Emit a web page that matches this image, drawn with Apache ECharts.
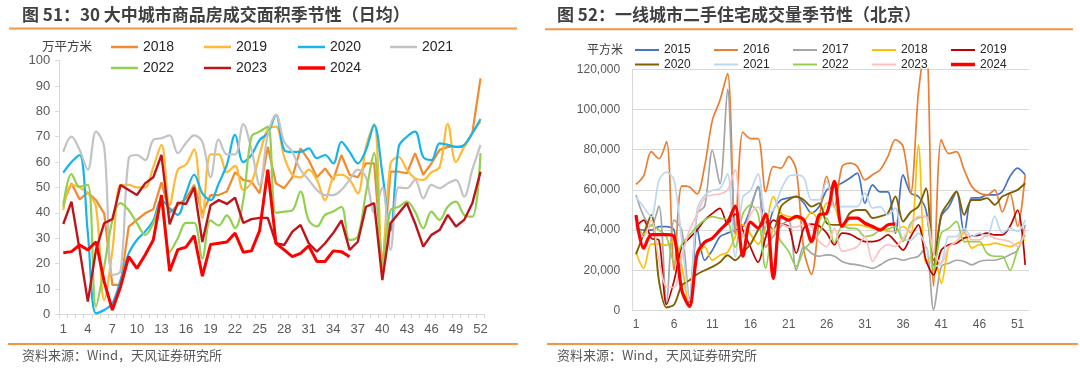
<!DOCTYPE html>
<html><head><meta charset="utf-8">
<script src="https://cdn.jsdelivr.net/npm/echarts/dist/echarts.min.js"></script>
<style>html,body{margin:0;padding:0;background:#fff}#c{width:1080px;height:371px}</style>
</head><body><div id="c"></div>
<script>
// ---------- data ----------
const weeks = ['1','2','3','4','5','6','7','8','9','10','11','12','13','14','15','16','17','18','19','20','21','22','23','24','25','26','27','28','29','30','31','32','33','34','35','36','37','38','39','40','41','42','43','44','45','46','47','48','49','50','51','52'];

// Left chart: 30 cities commodity housing sales area (daily avg, 万平方米)
const L2018 = [44,51.6,45.3,48,45,39.8,11.6,11.6,34.6,37.2,39.8,41.4,52,40,43,45.7,51,39.8,47,47,48.4,56,53,52.3,47.7,66,51.6,49.7,54,65.4,60.8,54,57.5,53,62.8,55,54,59.5,59.5,18,56.2,56.2,55.6,63.5,55,59.5,64.8,66,66,66,71.4,93];
const L2019 = [41,51,50,47.7,42.4,5.6,25,51,51,50,50,58,66.8,43,57,59,65,38,63,63,56,58.5,49,52,63,73,74,62,55,54,57,53,45,54,55,53,47.7,66,75,20,59.5,62,57,53.6,53,56,58,75,60,66,71.4,76];
const L2020 = [55.8,60,62.8,32,0.4,1.7,4.3,13.5,24,29.3,32.6,37,45,41.8,39.2,47.7,55,47.7,45,51.6,59,70.7,60,62.8,68.7,71.4,78.6,64.8,64,64,65.4,61.5,62.8,59.5,68,64,59.5,64.8,74.6,55.6,33,66,70,72,62,60.8,67.4,66.8,66,66.8,71.4,77];
const L2021 = [64,70,64.8,57,72,66,15.5,17,61.5,62.8,60.8,68.7,69.4,70.5,63.5,67.5,70.5,68,54,69,63,63,75,65,51,71,78.6,68,64,57,53,49,47,47,49,53,57,54,40,50,25.4,50,49.7,53,45.7,51,49.7,51.6,53,46.4,57,66.8];
const L2022 = [42.4,55.3,50.3,51,3,18.8,37,43.8,41,35.9,31.3,35.9,45,24.5,30,36,36,22,37,35,39,34,45,70,72,74,40,40.5,41,48.4,37,34.6,39.2,40.5,42.4,29.3,30.6,48,63.5,20,41,42.4,44.4,40.5,33.9,40.5,37.2,42.4,44.4,39.2,38.5,63.5];
const L2023 = [35.6,44.4,25.4,5,25.4,35.9,37.5,51,49,47,51.6,54,62.8,35.5,44,43.5,50,28.5,43,45,43.5,46,36,37.5,38,38,28,27.3,32.6,35.2,28,24.7,28,32,37,25.4,28.6,42.4,43.8,13.5,35.9,39.8,43.8,35.9,26.7,31.3,33.2,39.2,34.6,37.2,43.8,56.2];
const L2024 = [24.3,24.7,27.3,25.4,28.6,12.9,1.7,10.9,22.7,18.1,23.4,29.3,47,17,25.5,26.5,31,15,27.5,28,28.5,32,24.5,25,33,57,28,25.4,22.7,24,27,20.8,20.8,25,24.7,22.7];

// Right chart: Beijing second-hand housing transactions (平方米)
const R2015 = [40800,40000,40000,41700,41700,40000,10000,4000,40800,25000,30000,36700,38500,40000,41700,50800,61700,38000,50000,55000,56000,56700,53400,48400,51700,60000,61700,63400,65800,68300,53400,62500,59000,59000,38500,67500,58400,56700,50000,25000,46800,51700,59000,38500,56000,56000,57500,57500,59200,66700,70800,67500];
const R2016 = [62700,67000,79000,75500,84000,20000,62000,61400,58000,72000,94600,104600,118000,38000,88800,85500,85500,59000,71600,70800,76600,70000,30000,18000,45000,66700,51700,71600,73300,71600,65000,67500,70000,76600,85000,81600,58400,108000,135000,12000,85000,78000,79000,70000,61700,58400,57500,60000,49000,58400,41800,67500];
const R2017 = [57500,47000,42000,52000,4000,45000,40000,6000,48000,52000,79700,63000,110000,40000,38000,51500,61400,31500,37000,42000,45000,20000,31800,28500,27000,27700,27000,24400,23200,22700,21900,21000,22700,25000,26000,25000,26000,27000,31800,300,21900,23500,25000,24400,22700,24400,25000,25000,26000,27700,30000,42600];
const R2018 = [29000,21000,33000,33000,32500,35000,22000,1700,26700,31700,25000,27500,29000,36700,42700,38000,33000,41500,56700,48400,46800,46000,45000,49000,45000,53400,51700,41800,42600,42600,42000,41000,41000,39300,39300,41800,38500,82400,23500,27700,13600,31800,34300,38500,31000,32700,32700,33500,32700,31800,33500,35200];
const R2019 = [41700,45000,36000,35000,3000,15000,32000,36000,40000,45000,48300,50800,43000,48000,40000,31500,24000,36500,45000,43000,41800,28500,41000,43000,42000,38500,32700,38500,38000,36000,34300,34300,35200,37600,34300,30000,36800,42600,25000,17700,30000,32700,33500,36000,37000,37500,38500,37600,37600,41800,50000,22700];
const R2020 = [28000,38000,47500,15000,1500,3000,12500,15000,18000,20000,21700,24000,27500,25000,29000,33000,40000,44000,40000,51700,55000,56700,55000,51700,53400,43400,42600,42600,48400,50000,50000,46000,46800,48400,56700,44300,49000,51700,60900,21900,47600,54000,59200,47600,55000,55000,55900,52600,56700,58400,60000,63300];
const R2021 = [56400,51500,46500,64700,68900,64700,35000,5000,50000,57300,59800,60600,68000,26500,56400,59800,68000,48000,50000,60000,66700,67500,66000,55000,55000,64200,51000,51700,51700,51700,58400,51000,51700,47600,51000,35200,35000,38500,31800,21900,23500,36800,36800,41000,36800,38500,36800,46800,38500,41000,39300,45000];
const R2022 = [43000,38000,42500,40000,36700,24000,33000,37500,41700,45000,46700,45800,45000,31500,48000,52500,48000,21000,40000,34300,29400,21900,30000,34300,38500,46000,33500,41800,41000,40500,36800,37500,40000,40500,41800,34300,43400,46000,46800,20200,38500,41000,44300,34300,34300,34300,28500,27000,27000,20000,30000,37600];
const R2023 = [40000,36700,45000,25000,11700,11500,26700,40000,48000,56000,57500,58000,60000,70000,36500,48000,51500,43000,40000,43000,41500,41500,43000,41800,34300,31800,41000,29400,30200,31800,36800,24400,30200,32700,31800,36000,41800,46800,46800,28500,23500,31800,34300,39300,35200,35200,37600,36000,35200,34300,31800,40000];
const R2024 = [47500,31000,37700,37700,37700,36700,10000,2000,28000,34000,36000,40000,44000,52000,27000,44000,41000,48000,16000,46800,45000,46800,45000,34300,47600,48400,64200,41800,46000,46000,43400,41800,40000,42600,43100];

const leftNames = ['2018','2019','2020','2021','2022','2023','2024'];
const leftData = [L2018,L2019,L2020,L2021,L2022,L2023,L2024];
const rightNames = ['2015','2016','2017','2018','2019','2020','2021','2022','2023','2024'];
const rightData = [R2015,R2016,R2017,R2018,R2019,R2020,R2021,R2022,R2023,R2024];

// ---------- styles ----------
const leftColors = ['#F28A30','#FFB935','#14B4EC','#C3C3C3','#92D050','#C0141A','#FF0000'];
const leftSmooth = [false,true,true,true,true,false,false];
const leftWidth = [2.2,2.2,2.2,2.2,2.2,2.4,3];
const rightColors = ['#4472C4','#ED7D31','#A5A5A5','#FFC000','#C00000','#806000','#BDD7EE','#92D050','#FFBFBF','#FF0000'];
const rightWidth = [1.7,1.7,1.7,1.7,1.7,1.9,1.7,1.7,1.7,3.2];

const FONT = '"Liberation Sans", Arial, "Noto Sans CJK SC", sans-serif';
const CJK = '"Noto Sans CJK SC", "Liberation Sans", sans-serif';

const chart = echarts.init(document.getElementById('c'), null, {renderer:'canvas'});

const series = [];
leftNames.forEach((n,i)=>{
  series.push({name:'a'+n, type:'line', xAxisIndex:0, yAxisIndex:0, data:leftData[i],
    smooth: leftSmooth[i] ? 0.35 : false, symbol:'none', animation:false,
    lineStyle:{color:leftColors[i], width:leftWidth[i]}, itemStyle:{color:leftColors[i]}});
});
rightNames.forEach((n,i)=>{
  series.push({name:'b'+n, type:'line', xAxisIndex:1, yAxisIndex:1, data:rightData[i],
    smooth:0.3, symbol:'none', animation:false,
    lineStyle:{color:rightColors[i], width:rightWidth[i]}, itemStyle:{color:rightColors[i]}});
});

const legends = [];
const lx = [111,204,298,390], ly = [40,61];
leftNames.forEach((n,i)=>{
  legends.push({data:['a'+n], left:lx[i%4], top:ly[Math.floor(i/4)], padding:0, itemGap:0,
    icon:'rect', itemWidth:27, itemHeight: n==='2024'?3.5:2.5, selectedMode:false,
    formatter:s=>s.slice(1), textStyle:{fontSize:14, color:'#262626', fontFamily:FONT}});
});
const rx = [635,714,793,872,951], ry = [44,58.5];
rightNames.forEach((n,i)=>{
  legends.push({data:['b'+n], left:rx[i%5], top:ry[Math.floor(i/5)], padding:0, itemGap:0,
    icon:'rect', itemWidth:24, itemHeight: n==='2024'?3.5:2, selectedMode:false,
    formatter:s=>s.slice(1), textStyle:{fontSize:12, color:'#262626', fontFamily:FONT}});
});

const axisGray = '#D9D9D9';
const labelColor = '#595959';

const option = {
  animation:false,
  backgroundColor:'#ffffff',
  legend: legends,
  grid:[
    {left:59.2, top:60.6, width:425.4, height:253.7, outerBoundsMode:'none'},
    {left:632.2, top:69.3, width:396.8, height:241.2, outerBoundsMode:'none'}
  ],
  xAxis:[
    {type:'category', gridIndex:0, data:weeks, boundaryGap:true,
      axisLine:{show:true, lineStyle:{color:axisGray, width:1}},
      axisTick:{show:true, interval:0, length:4, lineStyle:{color:axisGray}},
      axisLabel:{interval:2, fontSize:13, color:labelColor, margin:9, fontFamily:FONT},
      splitLine:{show:false}},
    {type:'category', gridIndex:1, data:weeks, boundaryGap:true,
      axisLine:{show:true, lineStyle:{color:axisGray, width:1}},
      axisTick:{show:false},
      axisLabel:{interval:4, fontSize:12, color:labelColor, margin:8, fontFamily:FONT},
      splitLine:{show:false}}
  ],
  yAxis:[
    {type:'value', gridIndex:0, min:0, max:100, interval:10,
      axisLine:{show:true, lineStyle:{color:axisGray, width:1}},
      axisTick:{show:true, length:4, lineStyle:{color:axisGray}},
      axisLabel:{fontSize:13, color:labelColor, margin:9, fontFamily:FONT},
      splitLine:{show:false}},
    {type:'value', gridIndex:1, min:0, max:120000, interval:20000,
      axisLine:{show:true, lineStyle:{color:axisGray, width:1}},
      axisTick:{show:false},
      axisLabel:{fontSize:12, color:labelColor, margin:12, fontFamily:FONT,
        formatter:v=>v.toLocaleString('en-US')},
      splitLine:{show:true, lineStyle:{color:axisGray, width:1}}}
  ],
  series: series,
  graphic:[
    {type:'text', left:22, top:6.5, style:{text:'图 51：30 大中城市商品房成交面积季节性（日均）', fontSize:17, fontWeight:'bold', fill:'#404040', fontFamily:CJK}},
    {type:'text', left:557, top:6.5, style:{text:'图 52：一线城市二手住宅成交量季节性（北京）', fontSize:17, fontWeight:'bold', fill:'#404040', fontFamily:CJK}},
    {type:'line', shape:{x1:9, y1:28.5, x2:517, y2:28.5}, style:{stroke:'#F39543', lineWidth:2}},
    {type:'line', shape:{x1:545, y1:29.3, x2:1073, y2:29.3}, style:{stroke:'#F39543', lineWidth:2}},
    {type:'line', shape:{x1:8, y1:344, x2:518, y2:344}, style:{stroke:'#F39543', lineWidth:2}},
    {type:'line', shape:{x1:547, y1:344, x2:1078, y2:344}, style:{stroke:'#F39543', lineWidth:2}},
    {type:'text', left:42, top:40, style:{text:'万平方米', fontSize:12.5, fill:'#404040', fontFamily:CJK}},
    {type:'text', left:587, top:43.5, style:{text:'平方米', fontSize:12, fill:'#404040', fontFamily:CJK}},
    {type:'text', left:22, top:349, style:{text:'资料来源：Wind，天风证券研究所', fontSize:13, fill:'#595959', fontFamily:CJK}},
    {type:'text', left:557, top:349, style:{text:'资料来源：Wind，天风证券研究所', fontSize:13, fill:'#595959', fontFamily:CJK}}
  ]
};
chart.setOption(option);
</script>
</body></html>
